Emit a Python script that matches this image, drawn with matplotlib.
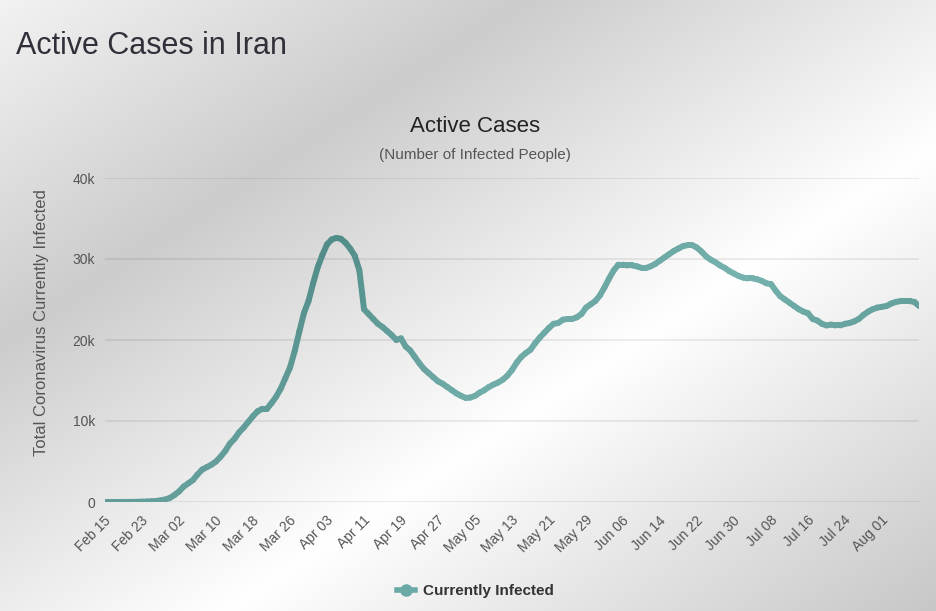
import numpy as np
import pandas as pd
import matplotlib
matplotlib.use("Agg")
import matplotlib.pyplot as plt
import matplotlib.dates as mdates
from matplotlib.collections import LineCollection
from matplotlib.lines import Line2D
from matplotlib.transforms import ScaledTranslation

plt.rcParams["font.family"] = ["Liberation Sans", "DejaVu Sans"]

# ---------------- data ----------------
start_date = "2020-02-15"
active_cases = [
    0, 0, 0, 0, 2, 5, 15, 25, 40, 55,                      # Feb 15 - Feb 24
    85, 120, 200, 300, 500, 850, 1300, 1900, 2300, 2700,   # Feb 25 - Mar 05
    3400, 4000, 4300, 4600, 5000, 5600, 6300, 7200, 7800, 8600,   # Mar 06 - Mar 15
    9200, 9900, 10600, 11200, 11500, 11500, 12200, 13000, 14000, 15300,  # Mar 16 - Mar 25
    16600, 18600, 21000, 23300, 24800, 27000, 29000, 30500, 31800, 32400,  # Mar 26 - Apr 04
    32600, 32500, 32000, 31300, 30400, 28600, 23800, 23200, 22600, 22000,  # Apr 05 - Apr 14
    21600, 21100, 20600, 20000, 20200, 19200, 18700, 17900, 17100, 16400,  # Apr 15 - Apr 24
    15900, 15400, 14900, 14600, 14200, 13800, 13400, 13100, 12850, 12900,  # Apr 25 - May 04
    13100, 13500, 13800, 14200, 14500, 14750, 15100, 15600, 16300, 17200,  # May 05 - May 14
    17900, 18400, 18800, 19600, 20300, 20900, 21500, 22000, 22100, 22500,  # May 15 - May 24
    22600, 22600, 22800, 23200, 24000, 24400, 24800, 25500, 26500, 27600,  # May 25 - Jun 03
    28600, 29300, 29300, 29200, 29200, 29100, 28900, 28900, 29100, 29400,  # Jun 04 - Jun 13
    29800, 30200, 30600, 31000, 31300, 31600, 31700, 31700, 31400, 30900,  # Jun 14 - Jun 23
    30300, 29900, 29600, 29200, 28900, 28500, 28200, 27900, 27700, 27600,  # Jun 24 - Jul 03
    27600, 27500, 27300, 27000, 26900, 26100, 25400, 25000, 24600, 24200,  # Jul 04 - Jul 13
    23800, 23500, 23300, 22600, 22400, 22000, 21800, 21900, 21800, 21800,  # Jul 14 - Jul 23
    22000, 22100, 22300, 22600, 23100, 23500, 23800, 24000, 24100, 24200,  # Jul 24 - Aug 02
    24500, 24700, 24800, 24800, 24800, 24700, 24200,                      # Aug 03 - Aug 09
]
tick_labels = ["Feb 15", "Feb 23", "Mar 02", "Mar 10", "Mar 18", "Mar 26",
               "Apr 03", "Apr 11", "Apr 19", "Apr 27", "May 05", "May 13",
               "May 21", "May 29", "Jun 06", "Jun 14", "Jun 22", "Jun 30",
               "Jul 08", "Jul 16", "Jul 24", "Aug 01"]
y_ticks = [0, 10000, 20000, 30000, 40000]
y_tick_labels = ["0", "10k", "20k", "30k", "40k"]
series_name = "Currently Infected"
page_title = "Active Cases in Iran"
chart_title = "Active Cases"
chart_subtitle = "(Number of Infected People)"
y_label = "Total Coronavirus Currently Infected"

# ---------------- figure ----------------
W, H = 936, 611
fig = plt.figure(figsize=(W / 100, H / 100), dpi=100)


def bg_value(xp, yp):
    t = (xp / W + yp / H) / 2.0
    return np.interp(t, [0.0, 0.28, 0.62, 1.0], [0.95, 0.80, 1.0, 0.78])


bg_ax = fig.add_axes([0, 0, 1, 1], zorder=-10)
yy, xx = np.mgrid[0:H, 0:W]
g = bg_value(xx.astype(float), yy.astype(float))
bg_ax.imshow(np.dstack([g, g, g]), aspect="auto", interpolation="bilinear")
bg_ax.axis("off")

ax = fig.add_axes([105 / W, 1 - 502 / H, (919 - 105) / W, (502 - 178) / H])
ax.patch.set_alpha(0)

dates = pd.date_range(start_date, periods=len(active_cases), freq="D")
x = mdates.date2num(dates)
y = np.array(active_cases, dtype=float)
ax.set_xlim(x[0], x[-1])
ax.set_ylim(0, 40000)

# grid
ax.set_yticks(y_ticks)
ax.set_yticklabels(y_tick_labels, fontsize=10, color="#555555")
ax.yaxis.grid(True, color="black", alpha=0.08, lw=1.3)
ax.set_axisbelow(True)
for s in ax.spines.values():
    s.set_visible(False)
ax.tick_params(axis="y", length=0, pad=7)

tick_dates = pd.date_range(start_date, periods=len(tick_labels), freq="8D")
ax.set_xticks(mdates.date2num(tick_dates))
ax.set_xticklabels(tick_labels, rotation=45, ha="right", va="center",
                   rotation_mode="anchor", fontsize=10, color="#555555")
ax.tick_params(axis="x", length=0, pad=11)
shift = ScaledTranslation(0.04, -0.01, fig.dpi_scale_trans)
for lab in ax.get_xticklabels():
    lab.set_transform(lab.get_transform() + shift)

# line coloured by background brightness
pts = np.column_stack([x, y])
segs = np.stack([pts[:-1], pts[1:]], axis=1)
mid = (pts[:-1] + pts[1:]) / 2
disp = ax.transData.transform(mid)
b = bg_value(disp[:, 0], H - disp[:, 1])
s = np.clip((b - 0.82) / 0.18, 0, 1)[:, None]
dark = np.array([72, 131, 128]) / 255
light = np.array([118, 178, 174]) / 255
cols = dark + (light - dark) * s
lc = LineCollection(segs, colors=cols, linewidths=4.3, capstyle="round",
                    joinstyle="round", zorder=3)
ax.add_collection(lc)

# texts
fig.text(16 / W, 1 - 46 / H, page_title, fontsize=22, color="#30303a",
         ha="left", va="center")
fig.text(475 / W, 1 - 126 / H, chart_title, fontsize=16, color="#222222",
         ha="center", va="center")
fig.text(475 / W, 1 - 155 / H, chart_subtitle, fontsize=11, color="#555555",
         ha="center", va="center")
fig.text(42 / W, 1 - 323 / H, y_label, fontsize=12, color="#555555",
         rotation=90, ha="center", va="center")

handle = Line2D([], [], color="#6aa9a5", lw=4, marker="o", markersize=8)
leg = fig.legend(handles=[handle], labels=[series_name], loc="center",
                 bbox_to_anchor=(475 / W, 1 - 591 / H), frameon=False,
                 prop={"weight": "bold", "size": 11}, handlelength=1.2,
                 handletextpad=0.5)
for t in leg.get_texts():
    t.set_color("#333333")

fig.savefig("out.png", dpi=100)
